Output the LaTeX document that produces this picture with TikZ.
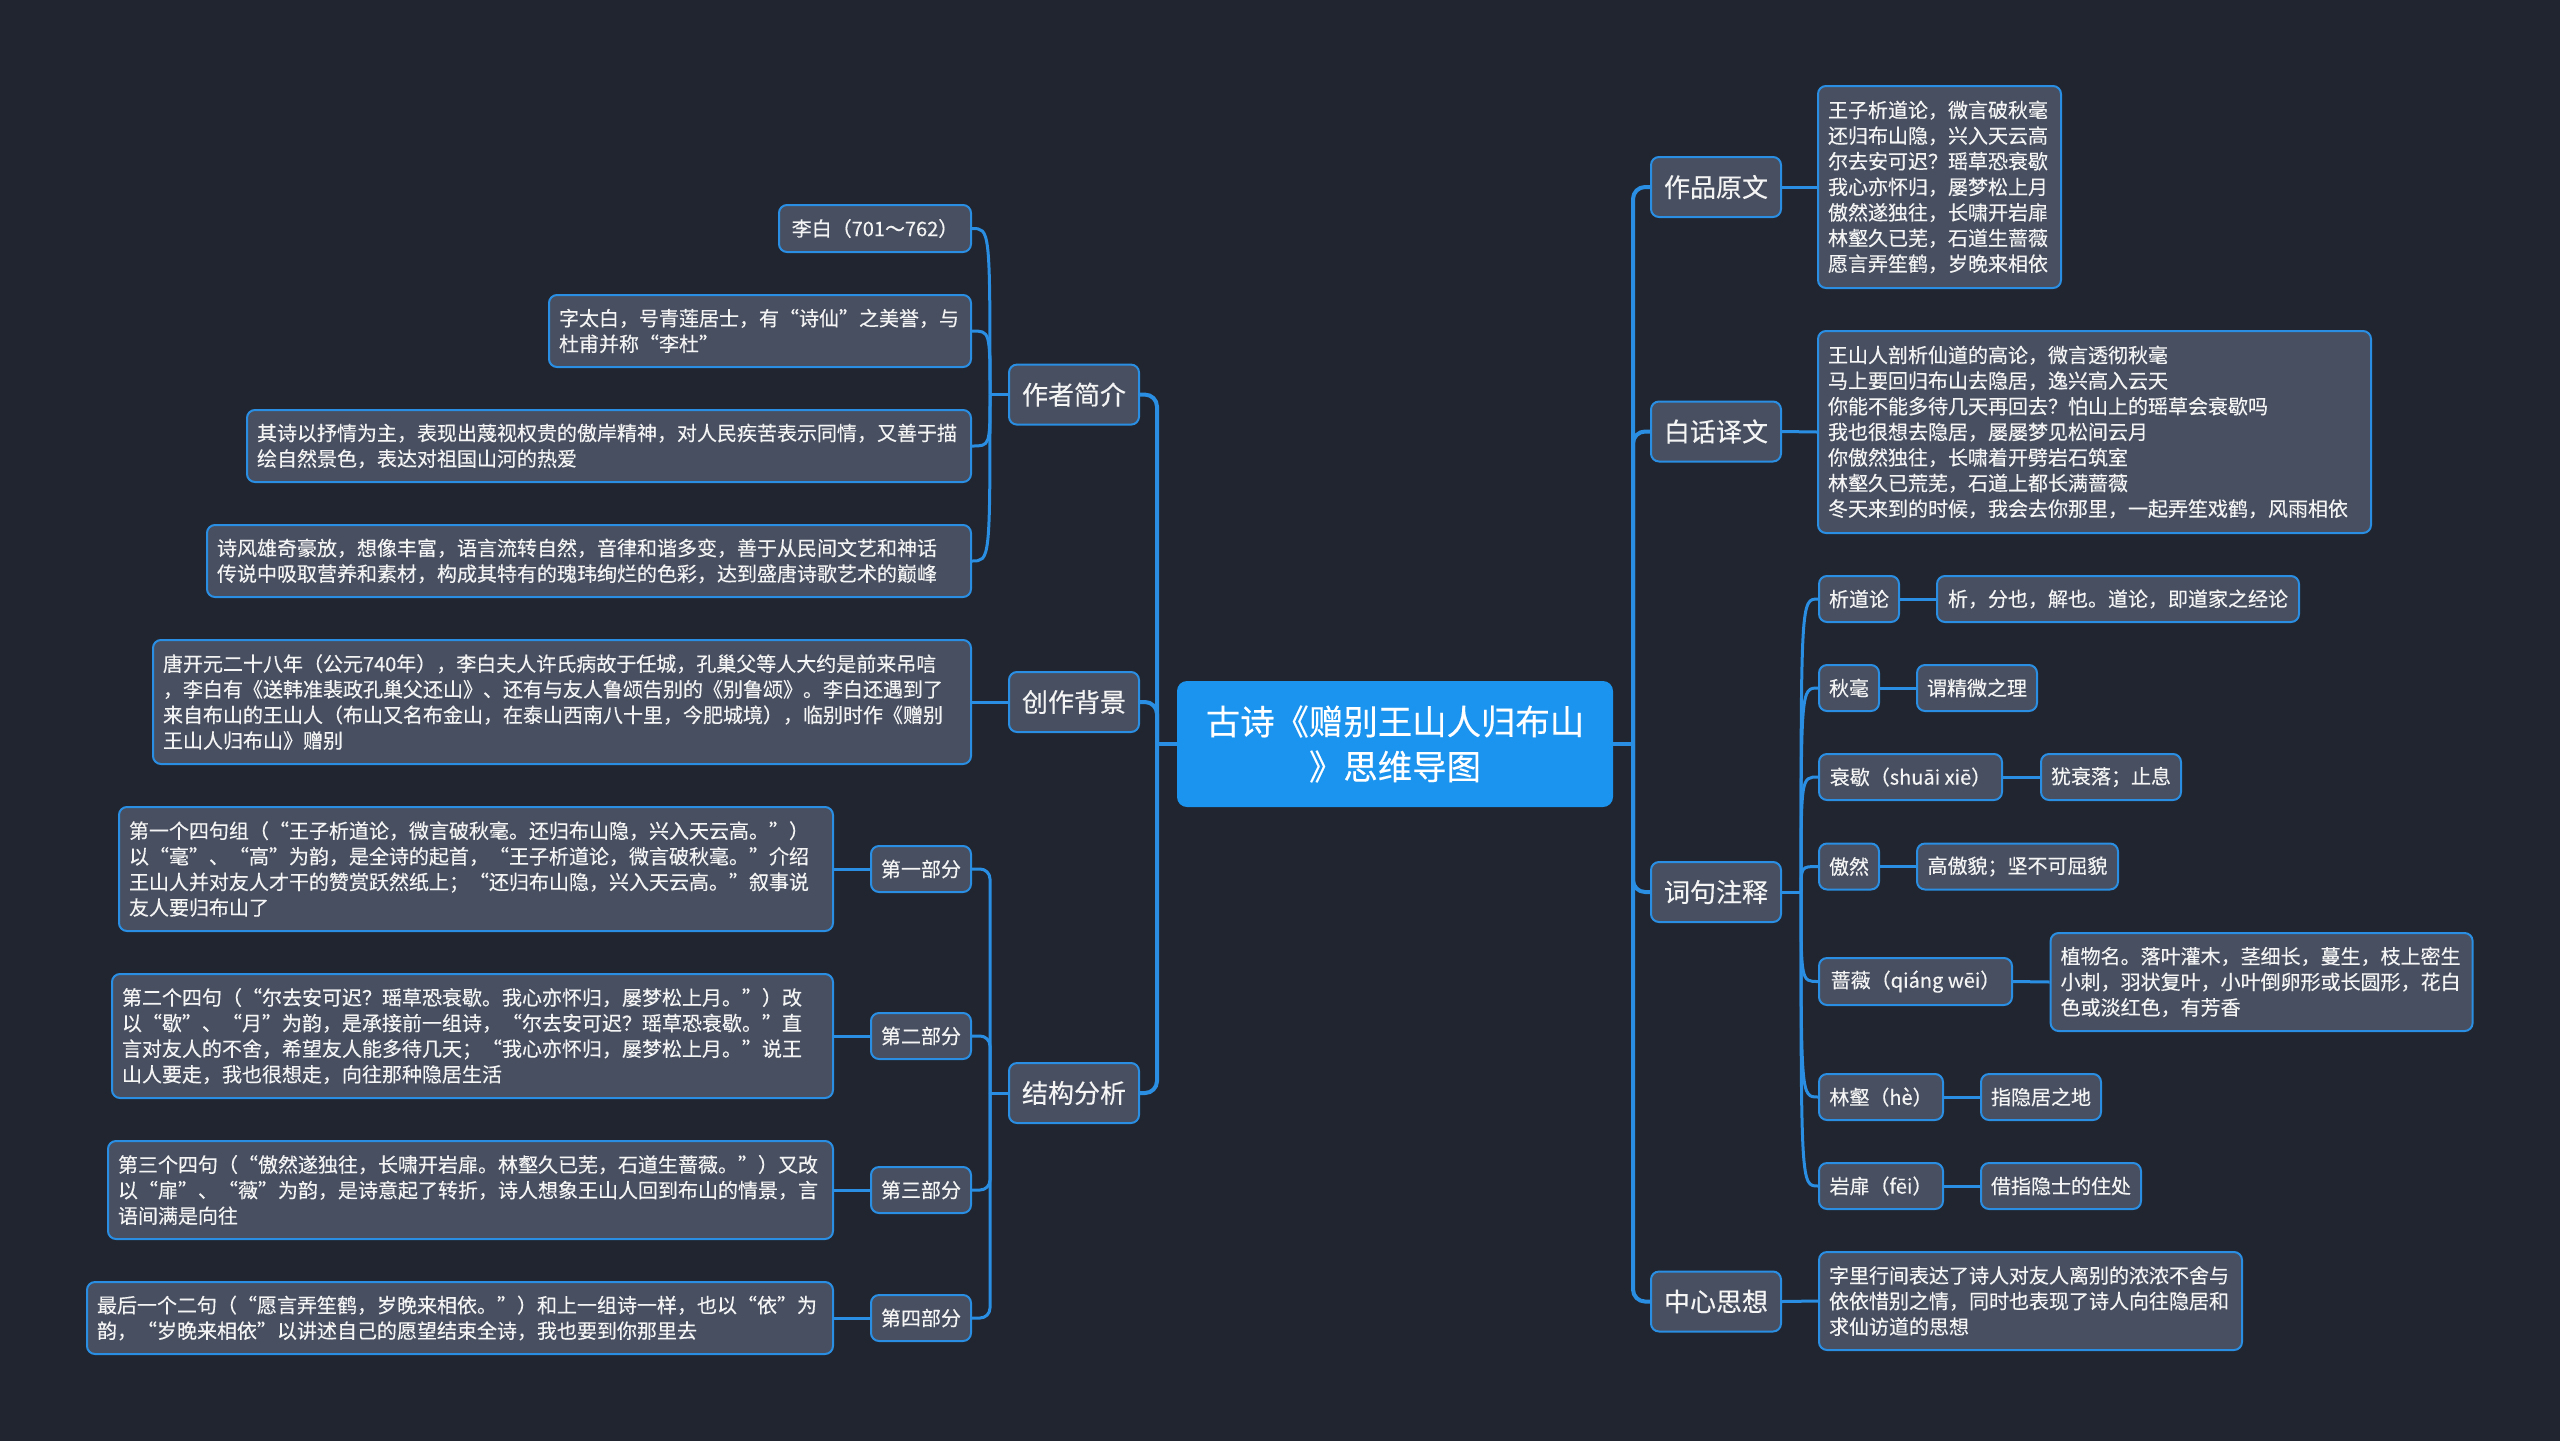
\documentclass[tikz,border=0pt]{standalone}
\usepackage{fontspec}
\setmainfont{Noto Sans CJK SC}[FakeBold=0.3]
\definecolor{bg}{HTML}{21252F}
\definecolor{nodefill}{HTML}{484F60}
\definecolor{nodeline}{HTML}{2A8FE3}
\definecolor{linec}{HTML}{2A8FE3}
\definecolor{rootfill}{HTML}{1A94EE}
\definecolor{txt}{HTML}{F4F4F4}
\begin{document}
\begin{tikzpicture}[x=0.5pt,y=-0.5pt,
  box/.style={draw=nodeline, fill=nodefill, line width=1pt, rounded corners=4pt, text=txt, inner ysep=0pt, inner xsep=5pt, align=left},
  leaf/.style={box, font=\fontsize{10pt}{12.8pt}\selectfont},
  mainbox/.style={box, inner xsep=0pt, font=\fontsize{13pt}{16pt}\selectfont, minimum width=65pt, minimum height=30pt, align=center},
  sz/.style 2 args={minimum width=#1*0.5pt, minimum height=#2*0.5pt, text width=#1*0.5pt-10pt},
  one/.style 2 args={minimum width=#1*0.5pt, minimum height=#2*0.5pt, inner xsep=0pt, align=center},
  conn/.style={draw=linec, line width=1.5pt},
  elbow/.style={draw=linec, line width=1.5pt, rounded corners=5pt},
  trunk/.style={draw=linec, line width=2pt, rounded corners=6pt}]
\useasboundingbox (0,0) rectangle (2560,1441);
\fill[bg] (0,0) rectangle (2560,1441);

% root
\node[fill=rootfill, rounded corners=5pt, text=white, align=center, inner sep=0pt,
      minimum width=218pt, minimum height=63pt, font=\fontsize{17.2pt}{22.5pt}\selectfont] (root) at (1395,744)
  {古诗《赠别王山人归布山\\》思维导图};

% main branches
\node[mainbox] (zz) at (1074,394.6) {作者简介};
\node[mainbox] (cz) at (1074,702) {创作背景};
\node[mainbox] (jg) at (1074,1093) {结构分析};
\node[mainbox] (yw) at (1716,187) {作品原文};
\node[mainbox] (bh) at (1716,431.5) {白话译文};
\node[mainbox] (zs) at (1716,892) {词句注释};
\node[mainbox] (zx) at (1716,1301.5) {中心思想};

% junctions
\coordinate (jl) at (1157,744);
\coordinate (jr) at (1633,744);
\coordinate (ja) at (990,394.6);
\coordinate (jp) at (990,1093);
\coordinate (jc) at (1801,892);

% author leaves
\node[leaf, one={192}{47}] (a1) at (875,228.5) {李白（701～762）};
\node[leaf, sz={422}{72}] (a2) at (760,331) {字太白，号青莲居士，有“诗仙”之美誉，与\\杜甫并称“李杜”};
\node[leaf, sz={724}{72}] (a3) at (609,446) {其诗以抒情为主，表现出蔑视权贵的傲岸精神，对人民疾苦表示同情，又善于描\\绘自然景色，表达对祖国山河的热爱};
\node[leaf, sz={764}{72}] (a4) at (589,561) {诗风雄奇豪放，想像丰富，语言流转自然，音律和谐多变，善于从民间文艺和神话\\传说中吸取营养和素材，构成其特有的瑰玮绚烂的色彩，达到盛唐诗歌艺术的巅峰};

% background leaf
\node[leaf, sz={818}{124}] (b1) at (562,702) {唐开元二十八年（公元740年），李白夫人许氏病故于任城，孔巢父等人大约是前来吊唁\\，李白有《送韩准裴政孔巢父还山》、还有与友人鲁颂告别的《别鲁颂》。李白还遇到了\\来自布山的王山人（布山又名布金山，在泰山西南八十里，今肥城境），临别时作《赠别\\王山人归布山》赠别};

% structure parts
\node[leaf, one={100}{46}] (p1) at (921,869) {第一部分};
\node[leaf, one={100}{46}] (p2) at (921,1036) {第二部分};
\node[leaf, one={100}{46}] (p3) at (921,1190) {第三部分};
\node[leaf, one={100}{46}] (p4) at (921,1318) {第四部分};
\node[leaf, sz={714}{124}] (q1) at (476,869) {第一个四句组（“王子析道论，微言破秋毫。还归布山隐，兴入天云高。”）\\以“毫”、“高”为韵，是全诗的起首，“王子析道论，微言破秋毫。”介绍\\王山人并对友人才干的赞赏跃然纸上；“还归布山隐，兴入天云高。”叙事说\\友人要归布山了};
\node[leaf, sz={721}{124}] (q2) at (472.5,1036) {第二个四句（“尔去安可迟？瑶草恐衰歇。我心亦怀归，屡梦松上月。”）改\\以“歇”、“月”为韵，是承接前一组诗，“尔去安可迟？瑶草恐衰歇。”直\\言对友人的不舍，希望友人能多待几天；“我心亦怀归，屡梦松上月。”说王\\山人要走，我也很想走，向往那种隐居生活};
\node[leaf, sz={725}{98}] (q3) at (470.5,1190) {第三个四句（“傲然遂独往，长啸开岩扉。林壑久已芜，石道生蔷薇。”）又改\\以“扉”、“薇”为韵，是诗意起了转折，诗人想象王山人回到布山的情景，言\\语间满是向往};
\node[leaf, sz={746}{72}] (q4) at (460,1318) {最后一个二句（“愿言弄笙鹤，岁晚来相依。”）和上一组诗一样，也以“依”为\\韵，“岁晚来相依”以讲述自己的愿望结束全诗，我也要到你那里去};

% right leaves
\node[leaf, sz={243}{202}] (r1) at (1939.5,187) {王子析道论，微言破秋毫\\还归布山隐，兴入天云高\\尔去安可迟？瑶草恐衰歇\\我心亦怀归，屡梦松上月\\傲然遂独往，长啸开岩扉\\林壑久已芜，石道生蔷薇\\愿言弄笙鹤，岁晚来相依};
\node[leaf, sz={553}{202}] (r2) at (2094.5,432) {王山人剖析仙道的高论，微言透彻秋毫\\马上要回归布山去隐居，逸兴高入云天\\你能不能多待几天再回去？怕山上的瑶草会衰歇吗\\我也很想去隐居，屡屡梦见松间云月\\你傲然独往，长啸着开劈岩石筑室\\林壑久已荒芜，石道上都长满蔷薇\\冬天来到的时候，我会去你那里，一起弄笙戏鹤，风雨相依};
\node[leaf, sz={423}{98}] (r4) at (2030.5,1301) {字里行间表达了诗人对友人离别的浓浓不舍与\\依依惜别之情，同时也表现了诗人向往隐居和\\求仙访道的思想};

% notes
\node[leaf, one={80}{46}] (c1) at (1859,599) {析道论};
\node[leaf, one={362}{46}] (d1) at (2118,599) {析，分也，解也。道论，即道家之经论};
\node[leaf, one={60}{46}] (c2) at (1849,688) {秋毫};
\node[leaf, one={120}{46}] (d2) at (1977,688) {谓精微之理};
\node[leaf, one={183}{46}] (c3) at (1910.5,777) {衰歇（shuāi~xiē）};
\node[leaf, one={140}{46}] (d3) at (2111,777) {犹衰落；止息};
\node[leaf, one={60}{46}] (c4) at (1849,866.5) {傲然};
\node[leaf, one={201}{46}] (d4) at (2017.5,866.5) {高傲貌；坚不可屈貌};
\node[leaf, one={193}{47}] (c5) at (1915.5,981.5) {蔷薇（qiáng~wēi）};
\node[leaf, sz={422}{98}] (d5) at (2261.6,982) {植物名。落叶灌木，茎细长，蔓生，枝上密生\\小刺，羽状复叶，小叶倒卵形或长圆形，花白\\色或淡红色，有芳香};
\node[leaf, one={124}{46}] (c6) at (1881,1097) {林壑（hè）};
\node[leaf, one={120}{46}] (d6) at (2041,1097) {指隐居之地};
\node[leaf, one={124}{46}] (c7) at (1881,1186) {岩扉（fēi）};
\node[leaf, one={160}{46}] (d7) at (2061,1186) {借指隐士的住处};

% trunk connectors
\draw[trunk] (root.west) -- (jl);
\draw[trunk] (root.east) -- (jr);
\foreach \n in {zz,cz,jg} \draw[trunk] (jl) |- (\n.east);
\foreach \n in {yw,bh,zs,zx} \draw[trunk] (jr) |- (\n.west);

% author group
\draw[conn] (zz.west) -- (ja);
\foreach \n in {a1,a2,a3,a4} \draw[conn] (ja) .. controls (ja |- \n.east) .. (\n.east);
% background
\draw[conn] (b1.east) -- (cz.west);
% structure group
\draw[conn] (jg.west) -- (jp);
\foreach \n in {p1,p2,p3,p4} \draw[elbow] (jp) |- (\n.east);
\draw[conn] (q1.east) -- (p1.west);
\draw[conn] (q2.east) -- (p2.west);
\draw[conn] (q3.east) -- (p3.west);
\draw[conn] (q4.east) -- (p4.west);
% right leaves
\draw[conn] (yw.east) -- (r1.west);
\draw[conn] (bh.east) -- (r2.west);
\draw[conn] (zx.east) -- (r4.west);
% notes group
\draw[conn] (zs.east) -- (jc);
\foreach \n in {c1,c2,c3,c4,c5,c6,c7} \draw[conn] (jc) .. controls (jc |- \n.west) .. (\n.west);
\draw[conn] (c1.east) -- (d1.west);
\draw[conn] (c2.east) -- (d2.west);
\draw[conn] (c3.east) -- (d3.west);
\draw[conn] (c4.east) -- (d4.west);
\draw[conn] (c5.east) -- (d5.west);
\draw[conn] (c6.east) -- (d6.west);
\draw[conn] (c7.east) -- (d7.west);
\end{tikzpicture}
\end{document}
